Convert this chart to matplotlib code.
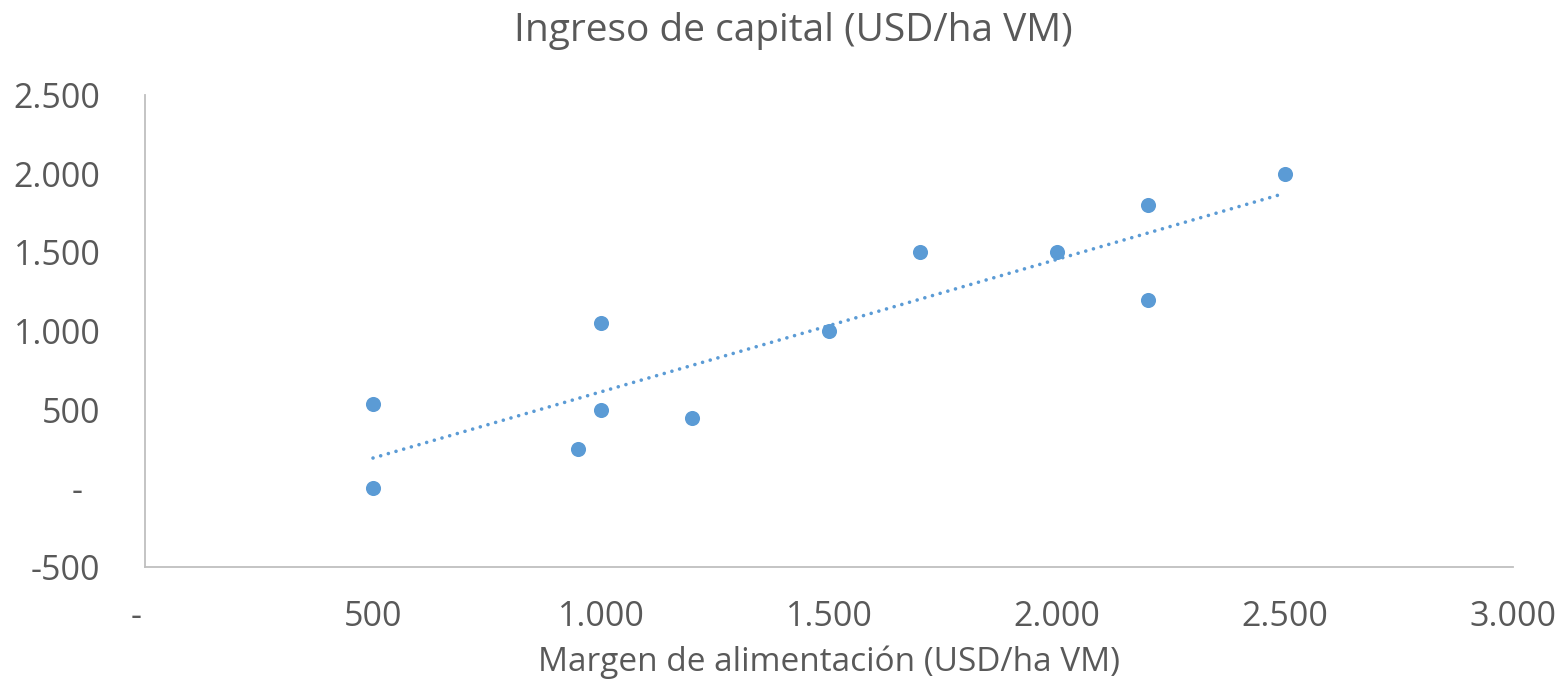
import numpy as np
import matplotlib
matplotlib.use("Agg")
import matplotlib.pyplot as plt
from matplotlib.ticker import FuncFormatter

plt.rcParams['font.family'] = ['Open Sans', 'DejaVu Sans']

# Data: margen de alimentación (x) vs ingreso de capital (y)
margen = [500, 500, 950, 1000, 1000, 1200, 1500, 1700, 2000, 2200, 2200, 2500]
ingreso = [535, 0, 250, 1050, 500, 445, 1000, 1500, 1500, 1800, 1200, 2000]

title = "Ingreso de capital (USD/ha VM)"
xlabel = "Margen de alimentación (USD/ha VM)"

x_ticks = [0, 500, 1000, 1500, 2000, 2500, 3000]
y_ticks = [-500, 0, 500, 1000, 1500, 2000, 2500]

TEXT = '#595959'
BLUE = '#5B9BD5'

def fmt(v, pos=None):
    v = int(round(v))
    if v == 0:
        return '-  '
    s = f"{abs(v):,}".replace(',', '.')
    return ('-' if v < 0 else '') + s

fig = plt.figure(figsize=(15.62, 6.88), dpi=100)
ax = fig.add_axes([145/1562, 1 - 567/688, (1513-145)/1562, (567-95)/688])

ax.scatter(margen, ingreso, s=118, color=BLUE, zorder=3, linewidths=0)

# linear trendline
coef = np.polyfit(margen, ingreso, 1)
xs = np.array([min(margen), max(margen)])
ax.plot(xs, np.polyval(coef, xs), color=BLUE, lw=2.6,
        linestyle=(0, (0.01, 2.2)), dash_capstyle='round', zorder=2)

ax.set_xlim(0, 3000)
ax.set_ylim(-500, 2500)
ax.set_xticks(x_ticks)
ax.set_yticks(y_ticks)
ax.xaxis.set_major_formatter(FuncFormatter(fmt))
ax.yaxis.set_major_formatter(FuncFormatter(fmt))
ax.tick_params(axis='both', length=0, labelsize=24.5, colors=TEXT)
ax.tick_params(axis='y', pad=32)
ax.tick_params(axis='x', pad=24)

for s in ['top', 'right']:
    ax.spines[s].set_visible(False)
for s in ['left', 'bottom']:
    ax.spines[s].set_color('#BFBFBF')
    ax.spines[s].set_linewidth(1.3)

ax.set_xlabel(xlabel, fontsize=24, color=TEXT, labelpad=8)
fig.text(793/1562, 1 - 31/688, title, fontsize=28,
         color=TEXT, ha='center', va='center')

fig.savefig('out.png', dpi=100, facecolor='white')
